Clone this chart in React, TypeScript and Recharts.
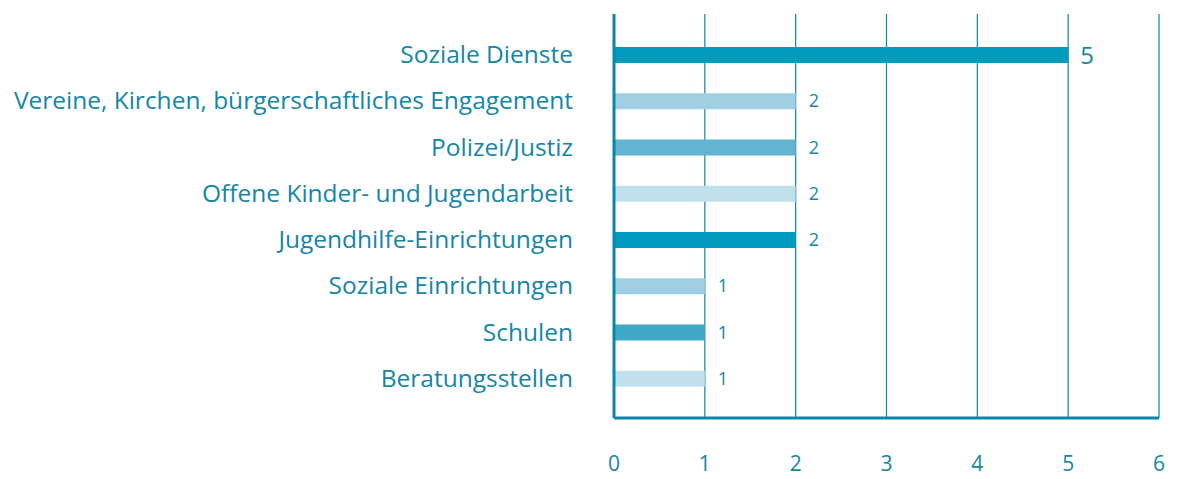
import { BarChart, Bar, XAxis, YAxis, CartesianGrid, Cell, LabelList } from 'recharts';

const categories = [
    'Soziale Dienste',
    'Vereine, Kirchen, bürgerschaftliches Engagement',
    'Polizei/Justiz',
    'Offene Kinder- und Jugendarbeit',
    'Jugendhilfe-Einrichtungen',
    'Soziale Einrichtungen',
    'Schulen',
    'Beratungsstellen',
];
const counts = [5, 2, 2, 2, 2, 1, 1, 1];
const barColors = ['#009bbd', '#a0cfe2', '#62b4d0', '#c0e0eb', '#009bbd', '#a0cfe2', '#40a9c8', '#c0e0eb'];
const xTicks = [0, 1, 2, 3, 4, 5, 6];

const TEXT = '#1486a8';
const AXIS = '#0a86a8';
const FONT = '"Open Sans", sans-serif';

const chartData = categories.map((name, i) => ({ name, count: counts[i] }));

const CategoryTick = ({ x, y, payload }: any) => (
    <text x={x - 33} y={y} dy={8} textAnchor="end" fill={TEXT} fontSize={24.5} fontFamily={FONT}>
        {payload.value}
    </text>
);

const ValueTick = ({ x, y, payload }: any) => (
    <text x={x} y={y} dy={45} textAnchor="middle" fill={TEXT} fontSize={21} fontFamily={FONT}>
        {payload.value}
    </text>
);

const ValueLabel = ({ x, y, width, height, value }: any) => {
    const big = value >= 5;
    return (
        <text
            x={x + width + (big ? 12 : 13)}
            y={y + height / 2}
            dy={big ? 9 : 6}
            fill={TEXT}
            fontSize={big ? 24 : 18}
            fontFamily={FONT}
        >
            {value}
        </text>
    );
};

export default function App() {
    return (
        <div style={{ position: 'absolute', left: 0, top: 0, background: '#fff' }}>
            <BarChart
                width={1180}
                height={479}
                data={chartData}
                layout="vertical"
                margin={{ top: 14, right: 21, bottom: 0, left: 0 }}
            >
                <CartesianGrid horizontal={false} vertical={true} stroke={AXIS} strokeWidth={1.2} />
                <XAxis
                    type="number"
                    domain={[0, 6]}
                    ticks={xTicks}
                    interval={0}
                    tickLine={false}
                    axisLine={{ stroke: AXIS, strokeWidth: 3 }}
                    tick={<ValueTick />}
                    height={61}
                />
                <YAxis
                    type="category"
                    dataKey="name"
                    width={614}
                    interval={0}
                    tickLine={false}
                    axisLine={{ stroke: AXIS, strokeWidth: 3 }}
                    padding={{ top: 18, bottom: 16 }}
                    tick={<CategoryTick />}
                />
                <Bar dataKey="count" barSize={16} isAnimationActive={false}>
                    {chartData.map((entry, index) => (
                        <Cell key={`cell-${index}`} fill={barColors[index]} />
                    ))}
                    <LabelList dataKey="count" content={<ValueLabel />} />
                </Bar>
            </BarChart>
        </div>
    );
}
